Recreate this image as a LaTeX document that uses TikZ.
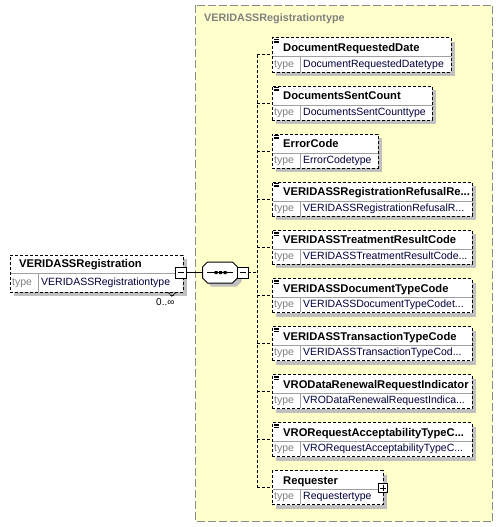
\documentclass[tikz,border=0pt]{standalone}
\usepackage{fontspec}
\setmainfont{Liberation Sans}
\definecolor{bgy}{RGB}{255,255,204}
\definecolor{shd}{RGB}{192,192,192}
\definecolor{bgline}{RGB}{140,140,140}
\definecolor{divc}{RGB}{160,160,160}
\definecolor{typec}{RGB}{128,128,128}
\definecolor{tnc}{RGB}{0,0,60}
\tikzset{
  elbox/.style={draw, dash pattern=on 3pt off 2pt, fill=white, line width=1pt, inner sep=0pt, outer sep=0pt, minimum height=34pt},
  nm/.style={font=\fontsize{11.2}{12}\selectfont\bfseries, inner sep=0pt},
  tl/.style={font=\fontsize{10.5}{12}\selectfont, text=typec, inner sep=0pt},
  tn/.style={font=\fontsize{10.5}{12}\selectfont, text=tnc, inner sep=0pt},
  conn/.style={draw, line width=1pt, dash pattern=on 3pt off 2pt},
  solidconn/.style={draw, line width=1pt},
  btn/.style={draw, line width=1pt, fill=white, inner sep=0pt, outer sep=0pt, minimum width=11pt, minimum height=11pt},
  divl/.style={draw=divc, line width=1pt},
}
\newcommand\xelem[6]{%
  \fill[shd] (276,#2+4) rectangle (#3+4,#2+38);
  \node[elbox, minimum width=#3pt-272pt, anchor=north west] (#1) at (272,#2) {};
  \draw[divl] (272.5,#2+19) -- (#3-0.5,#2+19) (300,#2+19) -- (300,#2+33.5);
  \node[nm, anchor=base west] (#1-n) at (283,#2+13.5) {#4};
  \node[tl, anchor=base west] (#1-t) at (274,#2+29) {type};
  \node[tn, anchor=base west] (#1-v) at (303,#2+29) {#5};
  \ifnum#6=1
    \draw[line width=0.7pt] (274,#2+1.5) -- (279,#2+1.5) (274,#2+3) -- (279,#2+3) (274,#2+4.5) -- (279,#2+4.5);
  \fi
  \coordinate (#1-j) at (257,#2+17);
  \draw[conn] (#1-j) -- (#1.west);
}
\newcommand\octo[3]{% cx, cy, style
  \path[#3] (#1-12.5,#2-10.5) -- (#1+12.5,#2-10.5) -- (#1+17.5,#2-5.5) -- (#1+17.5,#2+5.5) -- (#1+12.5,#2+10.5) -- (#1-12.5,#2+10.5) -- (#1-17.5,#2+5.5) -- (#1-17.5,#2-5.5) -- cycle;
}
\begin{document}
\begin{tikzpicture}[x=1pt,y=-1pt]
\useasboundingbox (0,0) rectangle (502,527);
% type background
\draw[fill=bgy, draw=bgline, line width=1pt, dash pattern=on 8pt off 3pt] (195.5,5.5) rectangle (492.5,521.5);
\node[font=\fontsize{10.8}{12}\selectfont\bfseries, text=typec, inner sep=0pt, anchor=base west] (ttl) at (204,22) {VERIDASSRegistrationtype};
% root element
\fill[shd] (14,259) rectangle (187,296);
\node[elbox, minimum width=173pt, minimum height=37pt, anchor=north west] (root) at (10,255) {};
\draw[divl] (10.5,273) -- (182.5,273) (38,273) -- (38,291.5);
\draw[line width=1pt, dash pattern=on 2pt off 1pt] (168.5,292.5) -- (172,296.5) -- (175.5,292.5);
\node[nm, anchor=base west] (root-n) at (19,267) {VERIDASSRegistration};
\node[tl, anchor=base west] (root-t) at (12,285.5) {type};
\node[tn, anchor=base west] (root-v) at (41,285.5) {VERIDASSRegistrationtype};
\node[btn] (rminus) at (180.5,272.5) {};
\draw[line width=1pt] (177.5,272.5) -- (183.5,272.5);
\node[font=\fontsize{10}{12}\selectfont, inner sep=0pt, anchor=base west] (occ) at (156,305) {0..∞};
% sequence compositor
\octo{224}{276}{fill=shd}
\node[inner sep=0pt, outer sep=0pt, minimum width=35pt, minimum height=21pt] (seq) at (220,272.5) {};
\octo{220}{272.5}{draw, fill=white, line width=1pt}
\draw[line width=1pt] (207,272.5) -- (233,272.5);
\fill (214.5,271) rectangle (217.5,274) (219,271) rectangle (222,274) (223.5,271) rectangle (226.5,274);
\node[btn] (sminus) at (242.5,272.5) {};
\draw[line width=1pt] (239.5,272.5) -- (245.5,272.5);
\draw[solidconn] (rminus.east) -- (seq.west);
\coordinate (vj) at (257,272.5);
\draw[conn] (sminus.east) -- (vj);
% child elements
\xelem{e1}{38.0}{451}{DocumentRequestedDate}{DocumentRequestedDatetype}{1}
\xelem{e2}{86.1}{432}{DocumentsSentCount}{DocumentsSentCounttype}{1}
\xelem{e3}{134.2}{378}{ErrorCode}{ErrorCodetype}{1}
\xelem{e4}{182.3}{472}{VERIDASSRegistrationRefusalRe...}{VERIDASSRegistrationRefusalR...}{1}
\xelem{e5}{230.4}{472}{VERIDASSTreatmentResultCode}{VERIDASSTreatmentResultCode...}{1}
\xelem{e6}{278.5}{472}{VERIDASSDocumentTypeCode}{VERIDASSDocumentTypeCodet...}{1}
\xelem{e7}{326.6}{472}{VERIDASSTransactionTypeCode}{VERIDASSTransactionTypeCod...}{1}
\xelem{e8}{374.7}{472}{VRODataRenewalRequestIndicator}{VRODataRenewalRequestIndica...}{1}
\xelem{e9}{422.8}{472}{VRORequestAcceptabilityTypeC...}{VRORequestAcceptabilityTypeC...}{1}
\xelem{e10}{470.9}{383}{Requester}{Requestertype}{0}
\draw[conn] (e1-j) -- (e10-j);
% expand button on Requester
\node[btn, minimum width=9pt, minimum height=9pt] (rplus) at (383,488) {};
\draw[line width=1pt] (380,488) -- (386,488) (383,485) -- (383,491);
\end{tikzpicture}
\end{document}
